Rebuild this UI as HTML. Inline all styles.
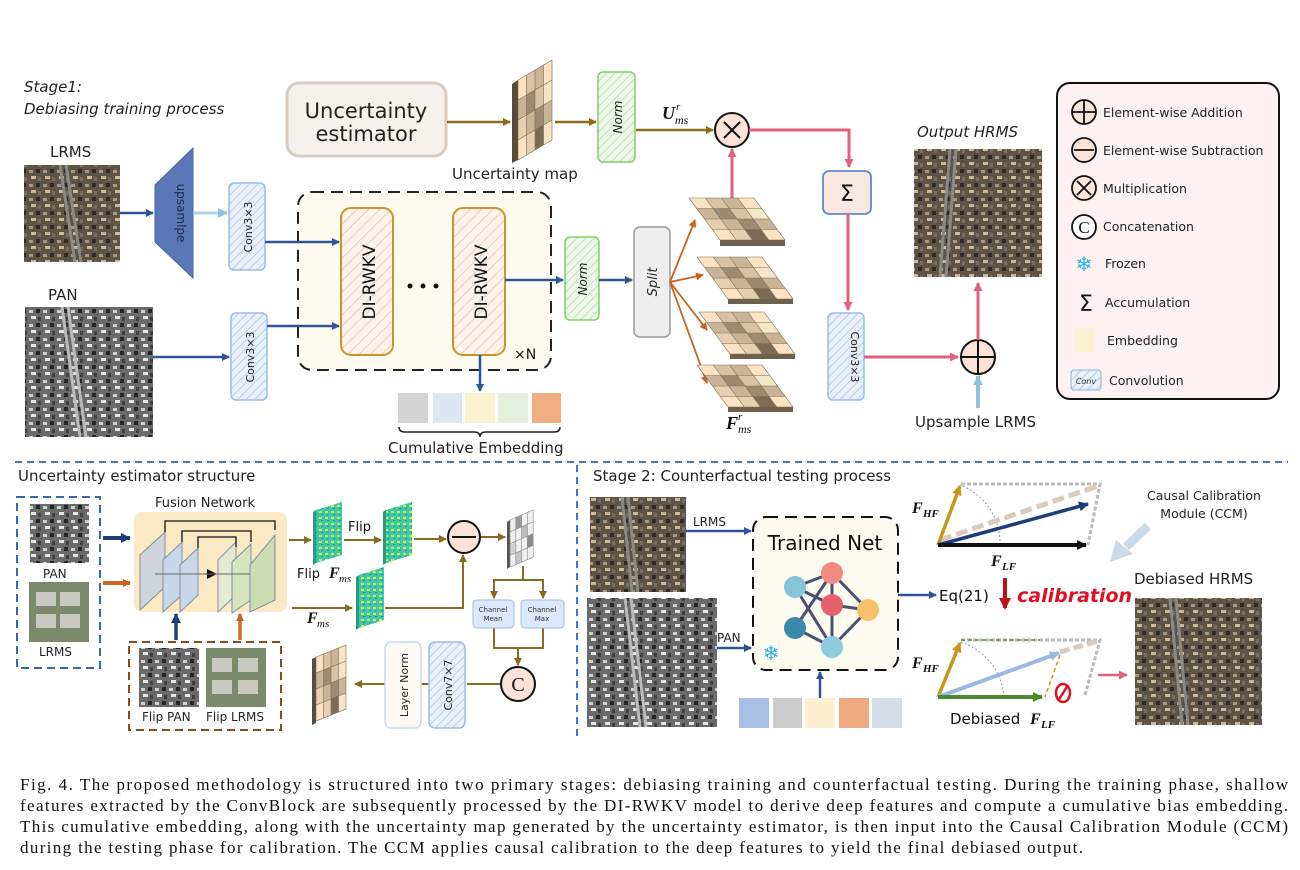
<!DOCTYPE html>
<html><head><meta charset="utf-8"><style>
html,body{margin:0;padding:0;background:#fff}
svg{display:block}
.h{font-family:"DejaVu Sans","Liberation Sans",sans-serif}
.s{font-family:"Liberation Serif",serif}
</style></head><body>
<svg width="1300" height="870" viewBox="0 0 1300 870" xmlns="http://www.w3.org/2000/svg">
<defs>
<marker id="aN" markerWidth="8" markerHeight="8" refX="7" refY="4" orient="auto" markerUnits="userSpaceOnUse"><path d="M0,0 L8,4 L0,8 Z" fill="#2f5597"/></marker>
<marker id="aB" markerWidth="8" markerHeight="8" refX="7" refY="4" orient="auto" markerUnits="userSpaceOnUse"><path d="M0,0 L8,4 L0,8 Z" fill="#8a6a1e"/></marker>
<marker id="aP" markerWidth="9" markerHeight="9" refX="8" refY="4.5" orient="auto" markerUnits="userSpaceOnUse"><path d="M0,0 L9,4.5 L0,9 Z" fill="#e0607e"/></marker>
<marker id="aO" markerWidth="8" markerHeight="8" refX="7" refY="4" orient="auto" markerUnits="userSpaceOnUse"><path d="M0,0 L8,4 L0,8 Z" fill="#c8621e"/></marker>
<marker id="aK" markerWidth="10" markerHeight="10" refX="9" refY="5" orient="auto" markerUnits="userSpaceOnUse"><path d="M0,0 L10,5 L0,10 Z" fill="#111"/></marker>
<marker id="aL" markerWidth="10" markerHeight="10" refX="9" refY="5" orient="auto" markerUnits="userSpaceOnUse"><path d="M0,0 L10,5 L0,10 Z" fill="#8ec3e0"/></marker>
<marker id="aNv" markerWidth="10" markerHeight="10" refX="9" refY="5" orient="auto" markerUnits="userSpaceOnUse"><path d="M0,0 L10,5 L0,10 Z" fill="#1f3d7a"/></marker>
<marker id="aG" markerWidth="10" markerHeight="10" refX="9" refY="5" orient="auto" markerUnits="userSpaceOnUse"><path d="M0,0 L10,5 L0,10 Z" fill="#c8961e"/></marker>
<marker id="aGr" markerWidth="10" markerHeight="10" refX="9" refY="5" orient="auto" markerUnits="userSpaceOnUse"><path d="M0,0 L10,5 L0,10 Z" fill="#4a8a2a"/></marker>
<marker id="aLb" markerWidth="10" markerHeight="10" refX="9" refY="5" orient="auto" markerUnits="userSpaceOnUse"><path d="M0,0 L10,5 L0,10 Z" fill="#9bb8e0"/></marker>
<marker id="aR" markerWidth="12" markerHeight="12" refX="6" refY="10" orient="0" markerUnits="userSpaceOnUse"><path d="M0,0 L12,0 L6,12 Z" fill="#c0101a"/></marker>
<pattern id="hB" width="6" height="6" patternUnits="userSpaceOnUse" patternTransform="rotate(45)"><rect width="6" height="6" fill="#eaf1fb"/><line x1="0" y1="0" x2="0" y2="6" stroke="#b9cdee" stroke-width="2"/></pattern>
<pattern id="hG" width="6" height="6" patternUnits="userSpaceOnUse" patternTransform="rotate(45)"><rect width="6" height="6" fill="#eef8ea"/><line x1="0" y1="0" x2="0" y2="6" stroke="#bfe3b0" stroke-width="2"/></pattern>
<pattern id="hP" width="8" height="8" patternUnits="userSpaceOnUse" patternTransform="rotate(45)"><rect width="8" height="8" fill="#fdf2ec"/><line x1="0" y1="0" x2="0" y2="8" stroke="#f5c7b4" stroke-width="2"/></pattern>
<pattern id="lr" width="14" height="14" patternUnits="userSpaceOnUse"><rect width="14" height="14" fill="#5d5446"/><rect x="1" y="2" width="4" height="3" fill="#a89880"/><rect x="8" y="1" width="4" height="4" fill="#2e2a24"/><rect x="3" y="8" width="5" height="3" fill="#cbb99a"/><rect x="10" y="9" width="3" height="4" fill="#7c6e5c"/></pattern>
<pattern id="pn" width="14" height="14" patternUnits="userSpaceOnUse"><rect width="14" height="14" fill="#6a6a6a"/><rect x="1" y="2" width="4" height="3" fill="#cfcfcf"/><rect x="8" y="1" width="4" height="4" fill="#262626"/><rect x="3" y="8" width="5" height="3" fill="#e6e6e6"/><rect x="10" y="9" width="3" height="4" fill="#404040"/></pattern>
<pattern id="fm" width="6" height="6" patternUnits="userSpaceOnUse"><rect width="6" height="6" fill="#3cc9a8"/><rect x="1" y="1" width="3" height="2" fill="#d7e84a"/><rect x="3" y="4" width="2" height="1" fill="#2a7fc0"/></pattern>
<g id="tgrid">
<rect x="0" y="0" width="1" height="1" fill="#fbe3c4"/><rect x="1" y="0" width="1" height="1" fill="#d9c2a4"/><rect x="2" y="0" width="1" height="1" fill="#c9b497"/><rect x="3" y="0" width="1" height="1" fill="#fbe3c4"/>
<rect x="0" y="1" width="1" height="1" fill="#c9b497"/><rect x="1" y="1" width="1" height="1" fill="#9e8a70"/><rect x="2" y="1" width="1" height="1" fill="#d9c2a4"/><rect x="3" y="1" width="1" height="1" fill="#f4e6c8"/>
<rect x="0" y="2" width="1" height="1" fill="#e5cfb0"/><rect x="1" y="2" width="1" height="1" fill="#c9b497"/><rect x="2" y="2" width="1" height="1" fill="#9e8a70"/><rect x="3" y="2" width="1" height="1" fill="#c9b497"/>
<rect x="0" y="3" width="1" height="1" fill="#fbe3c4"/><rect x="1" y="3" width="1" height="1" fill="#e5cfb0"/><rect x="2" y="3" width="1" height="1" fill="#7d6b55"/><rect x="3" y="3" width="1" height="1" fill="#fbe3c4"/>
<path d="M0,0H4V4H0Z M1,0V4 M2,0V4 M3,0V4 M0,1H4 M0,2H4 M0,3H4" fill="none" stroke="#7a6a55" stroke-width="0.6" vector-effect="non-scaling-stroke"/>
</g>
<g id="ggrid">
<rect x="0" y="0" width="4" height="4" fill="#f0f0f0"/><rect x="1" y="0" width="1" height="1" fill="#9a9a9a"/><rect x="2" y="1" width="1" height="1" fill="#bdbdbd"/><rect x="0" y="2" width="1" height="1" fill="#d0d0d0"/><rect x="3" y="2" width="1" height="1" fill="#8a8a8a"/><rect x="1" y="3" width="1" height="1" fill="#c5c5c5"/>
<path d="M0,0H4V4H0Z M1,0V4 M2,0V4 M3,0V4 M0,1H4 M0,2H4 M0,3H4" fill="none" stroke="#888" stroke-width="0.6" vector-effect="non-scaling-stroke"/>
</g>
</defs>

<!-- ===== Stage 1 ===== -->
<text x="24" y="92" class="h" font-size="15" font-style="italic" fill="#222">Stage1:</text>
<text x="24" y="114" class="h" font-size="15" font-style="italic" fill="#222">Debiasing training process</text>

<rect x="287" y="83" width="159" height="73" rx="12" fill="#f5f2ed" stroke="#d9cbbf" stroke-width="3"/>
<text x="366" y="118" class="h" font-size="21" text-anchor="middle" fill="#222">Uncertainty</text>
<text x="366" y="141" class="h" font-size="21" text-anchor="middle" fill="#222">estimator</text>
<line x1="447" y1="122" x2="510" y2="122" stroke="#8a6a1e" stroke-width="2.5" marker-end="url(#aB)"/>
<polygon points="512,84 518,80 518,160 512,163" fill="#5a4a38"/>
<use href="#tgrid" transform="matrix(8.5,-5,0,20,518,80)"/>
<line x1="555" y1="122" x2="596" y2="122" stroke="#8a6a1e" stroke-width="2.5" marker-end="url(#aB)"/>
<text x="452" y="179" class="h" font-size="15" fill="#222">Uncertainty map</text>
<rect x="598" y="72" width="37" height="90" rx="5" fill="url(#hG)" stroke="#7fd06a" stroke-width="1.5"/>
<text transform="translate(622,117) rotate(-90)" class="h" font-size="12" font-style="italic" text-anchor="middle" fill="#222">Norm</text>

<text x="662" y="119" class="s" font-size="18" font-style="italic" font-weight="bold" fill="#111">U</text><text x="676" y="110" class="s" font-size="11" font-style="italic" fill="#111">r</text><text x="675" y="124" class="s" font-size="12" font-style="italic" fill="#111">ms</text>
<line x1="636" y1="130" x2="713" y2="130" stroke="#8a6a1e" stroke-width="2.5" marker-end="url(#aB)"/>
<circle cx="732" cy="130" r="17" fill="#fbe3d8" stroke="#111" stroke-width="2"/>
<path d="M724,122 L740,138 M740,122 L724,138" stroke="#111" stroke-width="2"/>
<path d="M749,130 H849 V167" fill="none" stroke="#e0607e" stroke-width="3" marker-end="url(#aP)"/>
<line x1="732" y1="198" x2="732" y2="149" stroke="#e0607e" stroke-width="3" marker-end="url(#aP)"/>
<rect x="823" y="171" width="48" height="43" rx="6" fill="#fbe8e0" stroke="#5a8ad0" stroke-width="1.8"/>
<text x="847" y="201" class="h" font-size="22" text-anchor="middle" fill="#111">Σ</text>
<line x1="848" y1="214" x2="848" y2="310" stroke="#e0607e" stroke-width="3" marker-end="url(#aP)"/>
<rect x="828" y="313" width="36" height="87" rx="5" fill="url(#hB)" stroke="#9bbce8" stroke-width="1.5"/>
<text transform="translate(851,357) rotate(90)" class="h" font-size="11" text-anchor="middle" fill="#222">Conv3×3</text>
<line x1="864" y1="357" x2="958" y2="357" stroke="#e0607e" stroke-width="3" marker-end="url(#aP)"/>
<circle cx="978" cy="357" r="17" fill="#fbe3d8" stroke="#111" stroke-width="2"/>
<path d="M961,357 H995 M978,340 V374" stroke="#111" stroke-width="2"/>
<line x1="978" y1="340" x2="978" y2="283" stroke="#e0607e" stroke-width="3" marker-end="url(#aP)"/>
<line x1="978" y1="408" x2="978" y2="376" stroke="#8ec3e0" stroke-width="4" marker-end="url(#aL)"/>
<text x="915" y="427" class="h" font-size="15" fill="#222">Upsample LRMS</text>
<text x="917" y="137" class="h" font-size="15" font-style="italic" fill="#222">Output HRMS</text>
<rect x="914" y="149" width="128" height="128" fill="url(#lr)"/>
<path d="M950,149 L940,277 M956,149 L946,277" stroke="#8a8a84" stroke-width="3"/>

<!-- Legend -->
<rect x="1057" y="83" width="222" height="316" rx="13" fill="#fdf1f1" stroke="#111" stroke-width="2"/>
<g stroke="#111" stroke-width="1.8" fill="#fbe3d8">
<circle cx="1084" cy="112" r="12"/><circle cx="1084" cy="150" r="12"/><circle cx="1084" cy="188" r="12"/><circle cx="1084" cy="227" r="12" fill="#fff"/>
</g>
<path d="M1072,112 H1096 M1084,100 V124 M1074,150 H1094 M1077,181 L1091,195 M1091,181 L1077,195" stroke="#111" stroke-width="1.8"/>
<text x="1084" y="233" class="s" font-size="17" text-anchor="middle" fill="#111">C</text>
<text x="1084" y="271" font-size="20" text-anchor="middle" fill="#2ab0e8" class="h">❄</text>
<text x="1086" y="311" class="h" font-size="22" text-anchor="middle" fill="#111">Σ</text>
<rect x="1075" y="328" width="20" height="24" fill="#fdf0d3"/>
<rect x="1071" y="370" width="30" height="20" rx="3" fill="url(#hB)" stroke="#8fb0e0"/>
<text x="1086" y="384" class="h" font-size="8" font-style="italic" text-anchor="middle" fill="#333">Conv</text>
<g class="h" font-size="12.5" fill="#222">
<text x="1103" y="117">Element-wise Addition</text>
<text x="1103" y="155">Element-wise Subtraction</text>
<text x="1103" y="193">Multiplication</text>
<text x="1103" y="231">Concatenation</text>
<text x="1105" y="268">Frozen</text>
<text x="1105" y="307">Accumulation</text>
<text x="1107" y="345">Embedding</text>
<text x="1109" y="385">Convolution</text>
</g>

<!-- left inputs -->
<text x="50" y="157" class="h" font-size="15" fill="#222">LRMS</text>
<rect x="24" y="165" width="96" height="97" fill="url(#lr)"/>
<path d="M60,165 L75,262 M66,165 L81,262" stroke="#8a8a84" stroke-width="3"/>
<text x="48" y="300" class="h" font-size="15" fill="#222">PAN</text>
<rect x="25" y="307" width="128" height="130" fill="url(#pn)"/>
<path d="M62,307 L80,437 M68,307 L86,437" stroke="#bbb" stroke-width="3"/>
<line x1="120" y1="213" x2="153" y2="213" stroke="#2f5597" stroke-width="2.5" marker-end="url(#aN)"/>
<polygon points="155,185 193,148 193,278 155,242" fill="#5a78b8" stroke="#46639e"/>
<text transform="translate(177,213) rotate(90)" class="h" font-size="12" text-anchor="middle" fill="#1a2a50">upsamlpe</text>
<line x1="193" y1="213" x2="227" y2="213" stroke="#a8d4ec" stroke-width="3" marker-end="url(#aL)"/>
<rect x="229" y="183" width="36" height="87" rx="5" fill="url(#hB)" stroke="#9bbce8" stroke-width="1.5"/>
<text transform="translate(252,227) rotate(-90)" class="h" font-size="11" text-anchor="middle" fill="#222">Conv3×3</text>
<rect x="231" y="313" width="36" height="87" rx="5" fill="url(#hB)" stroke="#9bbce8" stroke-width="1.5"/>
<text transform="translate(254,357) rotate(-90)" class="h" font-size="11" text-anchor="middle" fill="#222">Conv3×3</text>
<line x1="153" y1="357" x2="229" y2="357" stroke="#2f5597" stroke-width="2.5" marker-end="url(#aN)"/>

<rect x="298" y="192" width="253" height="178" rx="14" fill="#fdfbef" stroke="#222" stroke-width="2" stroke-dasharray="12,7"/>
<line x1="265" y1="242" x2="339" y2="242" stroke="#2f5597" stroke-width="2.5" marker-end="url(#aN)"/>
<line x1="267" y1="326" x2="339" y2="326" stroke="#2f5597" stroke-width="2.5" marker-end="url(#aN)"/>
<rect x="341" y="208" width="52" height="147" rx="10" fill="url(#hP)" stroke="#c8962a" stroke-width="2"/>
<rect x="453" y="208" width="52" height="147" rx="10" fill="url(#hP)" stroke="#c8962a" stroke-width="2"/>
<text transform="translate(375,282) rotate(-90)" class="h" font-size="17" text-anchor="middle" fill="#111">DI-RWKV</text>
<text transform="translate(487,282) rotate(-90)" class="h" font-size="17" text-anchor="middle" fill="#111">DI-RWKV</text>
<circle cx="410" cy="286" r="2.5" fill="#111"/><circle cx="423" cy="286" r="2.5" fill="#111"/><circle cx="436" cy="286" r="2.5" fill="#111"/>
<text x="514" y="359" class="h" font-size="14" fill="#111">×N</text>
<line x1="505" y1="280" x2="563" y2="280" stroke="#2f5597" stroke-width="2.5" marker-end="url(#aN)"/>
<rect x="565" y="237" width="34" height="83" rx="5" fill="url(#hG)" stroke="#7fd06a" stroke-width="1.5"/>
<text transform="translate(587,279) rotate(-90)" class="h" font-size="12" font-style="italic" text-anchor="middle" fill="#222">Norm</text>
<line x1="599" y1="280" x2="632" y2="280" stroke="#2f5597" stroke-width="2.5" marker-end="url(#aN)"/>
<rect x="634" y="227" width="36" height="110" rx="6" fill="#eeeeee" stroke="#999" stroke-width="1.5"/>
<text transform="translate(657,282) rotate(-90)" class="h" font-size="13" font-style="italic" text-anchor="middle" fill="#222">Split</text>
<line x1="480" y1="355" x2="480" y2="391" stroke="#2f5597" stroke-width="2.5" marker-end="url(#aN)"/>
<rect x="398" y="393" width="30" height="30" fill="#d4d4d4"/><rect x="433" y="393" width="29" height="30" fill="#dde6f4"/><rect x="465" y="393" width="30" height="30" fill="#fdf0d3"/><rect x="498" y="393" width="30" height="30" fill="#e2f0dc"/><rect x="532" y="393" width="29" height="30" fill="#f0ae80"/>
<path d="M399,427 q0,5 6,5 H474 q6,0 6,5 q0,-5 6,-5 H554 q6,0 6,-5" fill="none" stroke="#222" stroke-width="1.5"/>
<text x="388" y="453" class="h" font-size="15" fill="#222">Cumulative Embedding</text>

<!-- split arrows & grids -->
<g stroke="#c8621e" stroke-width="1.8" fill="none">
<line x1="670" y1="282" x2="695" y2="220" marker-end="url(#aO)"/>
<line x1="670" y1="282" x2="703" y2="275" marker-end="url(#aO)"/>
<line x1="670" y1="282" x2="707" y2="330" marker-end="url(#aO)"/>
<line x1="670" y1="282" x2="707" y2="383" marker-end="url(#aO)"/>
</g>
<g>
<polygon points="720,240 785,240 785,246 720,246" fill="#6f604e"/><use href="#tgrid" transform="matrix(16.25,0,7.75,10.5,689,198)"/>
<polygon points="728,298 793,298 793,304 728,304" fill="#6f604e"/><use href="#tgrid" transform="matrix(16.25,0,7.75,10.5,697,257)"/>
<polygon points="730,353 795,353 795,359 730,359" fill="#6f604e"/><use href="#tgrid" transform="matrix(16.25,0,7.75,10.5,699,312)"/>
<polygon points="728,406 793,406 793,412 728,412" fill="#6f604e"/><use href="#tgrid" transform="matrix(16.25,0,7.75,10.5,697,365)"/>
</g>
<text x="726" y="429" class="s" font-size="18" font-style="italic" font-weight="bold" fill="#111">F</text><text x="738" y="420" class="s" font-size="11" font-style="italic" fill="#111">r</text><text x="738" y="433" class="s" font-size="12" font-style="italic" fill="#111">ms</text>

<!-- dividers -->
<line x1="15" y1="462" x2="1288" y2="462" stroke="#4a74c8" stroke-width="2" stroke-dasharray="7,5"/>
<line x1="577" y1="465" x2="577" y2="738" stroke="#4a74c8" stroke-width="2" stroke-dasharray="7,5"/>

<!-- ===== Uncertainty estimator structure ===== -->
<text x="18" y="481" class="h" font-size="15" fill="#222">Uncertainty estimator structure</text>
<rect x="17" y="497" width="83" height="171" fill="none" stroke="#3a68b0" stroke-width="2" stroke-dasharray="8,5"/>
<rect x="30" y="504" width="59" height="59" fill="url(#pn)"/>
<text x="43" y="578" class="h" font-size="12" fill="#222">PAN</text>
<rect x="29" y="582" width="60" height="60" fill="#7c8a6c"/><rect x="36" y="592" width="20" height="14" fill="#c9c9c0"/><rect x="60" y="592" width="20" height="14" fill="#c9c9c0"/><rect x="36" y="614" width="20" height="14" fill="#c9c9c0"/><rect x="60" y="614" width="20" height="14" fill="#c9c9c0"/>
<text x="39" y="656" class="h" font-size="12" fill="#222">LRMS</text>
<line x1="103" y1="538" x2="130" y2="538" stroke="#1f3d7a" stroke-width="4" marker-end="url(#aNv)"/>
<line x1="103" y1="583" x2="130" y2="583" stroke="#d8651e" stroke-width="4" marker-end="url(#aO)"/>
<text x="155" y="507" class="h" font-size="13" fill="#222">Fusion Network</text>
<rect x="134" y="512" width="153" height="100" rx="9" fill="#fbe9c4"/>
<g stroke="#7f8fa6" stroke-width="1">
<polygon points="140,555 165,532 165,587 140,610" fill="#cfd4d8"/>
<polygon points="163,560 182,542 182,595 163,612" fill="#c8d8ea"/>
<polygon points="180,565 198,548 198,595 180,612" fill="#c8d8ea"/>
<polygon points="218,560 236,542 236,595 218,612" fill="#e3ecd0"/>
<polygon points="232,562 251,544 251,600 232,613" fill="#d6e4c0"/>
<polygon points="250,565 275,535 275,600 250,612" fill="#ccdcb4"/>
</g>
<g stroke="#111" stroke-width="1.3" fill="none">
<path d="M165,532 V521 H275 V530"/><path d="M182,542 V531 H251 V542"/><path d="M198,548 V537 H236 V547"/>
<line x1="205" y1="574" x2="216" y2="574" marker-end="url(#aK)"/>
</g>
<line x1="155" y1="574" x2="250" y2="574" stroke="#666" stroke-width="1"/>
<rect x="129" y="642" width="152" height="88" fill="none" stroke="#8a4a1e" stroke-width="2" stroke-dasharray="8,5"/>
<rect x="139" y="648" width="60" height="59" fill="url(#pn)"/>
<rect x="206" y="648" width="60" height="59" fill="#7c8a6c"/><rect x="212" y="658" width="20" height="14" fill="#c9c9c0"/><rect x="238" y="658" width="20" height="14" fill="#c9c9c0"/><rect x="212" y="680" width="20" height="14" fill="#c9c9c0"/><rect x="238" y="680" width="20" height="14" fill="#c9c9c0"/>
<text x="142" y="721" class="h" font-size="12" fill="#222">Flip PAN</text><text x="206" y="721" class="h" font-size="12" fill="#222">Flip LRMS</text>
<line x1="176" y1="640" x2="176" y2="614" stroke="#1f3d7a" stroke-width="3.5" marker-end="url(#aNv)"/>
<line x1="240" y1="640" x2="240" y2="614" stroke="#d8651e" stroke-width="3.5" marker-end="url(#aO)"/>

<g stroke="#8a6a1e" stroke-width="2" fill="none">
<line x1="289" y1="540" x2="311" y2="540" marker-end="url(#aB)"/>
<line x1="344" y1="540" x2="381" y2="540" marker-end="url(#aB)"/>
<line x1="414" y1="539" x2="446" y2="539" marker-end="url(#aB)"/>
<line x1="292" y1="608" x2="352" y2="608" marker-end="url(#aB)"/>
<path d="M385,608 H463 V555" marker-end="url(#aB)"/>
<line x1="481" y1="537" x2="505" y2="537" marker-end="url(#aB)"/>
<path d="M523,566 V580 H494 V598" marker-end="url(#aB)"/><path d="M523,580 H543 V598" marker-end="url(#aB)"/>
<path d="M494,628 V648 H543 V628 M518,648 V665" marker-end="url(#aB)"/>
<path d="M501,684 H467 M429,684 H421 M385,684 H355" marker-end="url(#aB)"/>
</g>
<polygon points="316,510 342,502 342,555 316,563" fill="url(#fm)"/><polygon points="313,512 316,510 316,563 313,565" fill="#2a9a80"/>
<polygon points="386,510 412,502 412,555 386,563" fill="url(#fm)"/><polygon points="383,512 386,510 386,563 383,565" fill="#2a9a80"/>
<polygon points="359,575 384,567 384,620 359,628" fill="url(#fm)"/><polygon points="356,577 359,575 359,628 356,630" fill="#2a9a80"/>
<text x="348" y="531" class="h" font-size="13" fill="#111">Flip</text>
<text x="297" y="578" class="h" font-size="13" fill="#111">Flip</text><text x="329" y="578" class="s" font-size="16" font-style="italic" font-weight="bold" fill="#111">F</text><text x="339" y="582" class="s" font-size="11" font-style="italic" fill="#111">ms</text>
<text x="307" y="623" class="s" font-size="16" font-style="italic" font-weight="bold" fill="#111">F</text><text x="317" y="627" class="s" font-size="11" font-style="italic" fill="#111">ms</text>
<circle cx="464" cy="537" r="16" fill="#fbe3d8" stroke="#111" stroke-width="2"/><line x1="452" y1="537" x2="476" y2="537" stroke="#111" stroke-width="2"/>
<polygon points="507,522 510,520 510,567 507,569" fill="#555"/>
<use href="#ggrid" transform="matrix(5.8,-2.5,0,11.8,510,520)"/>
<rect x="473" y="600" width="41" height="28" rx="4" fill="#dce8fb" stroke="#9bbce8"/><rect x="521" y="600" width="43" height="28" rx="4" fill="#dce8fb" stroke="#9bbce8"/>
<text x="493" y="612" class="h" font-size="7" text-anchor="middle" fill="#333">Channel</text><text x="493" y="621" class="h" font-size="7" text-anchor="middle" fill="#333">Mean</text>
<text x="542" y="612" class="h" font-size="7" text-anchor="middle" fill="#333">Channel</text><text x="542" y="621" class="h" font-size="7" text-anchor="middle" fill="#333">Max</text>
<circle cx="518" cy="684" r="17" fill="#fbe3d8" stroke="#111" stroke-width="2"/><text x="518" y="691" class="s" font-size="20" text-anchor="middle" fill="#111">C</text>
<rect x="429" y="642" width="36" height="86" rx="6" fill="url(#hB)" stroke="#9bbce8" stroke-width="1.5"/>
<text transform="translate(452,685) rotate(-90)" class="h" font-size="11" text-anchor="middle" fill="#222">Conv7×7</text>
<rect x="385" y="642" width="36" height="86" rx="6" fill="#fdfaf5" stroke="#c9d9ef" stroke-width="1.5"/>
<text transform="translate(408,685) rotate(-90)" class="h" font-size="11" text-anchor="middle" fill="#222">Layer Norm</text>
<polygon points="312,659 316,657 316,723 312,725" fill="#5a4a38"/>
<use href="#tgrid" transform="matrix(7.5,-3,0,16,316,657)"/>

<!-- ===== Stage 2 ===== -->
<text x="593" y="481" class="h" font-size="15" fill="#222">Stage 2: Counterfactual testing process</text>
<rect x="590" y="497" width="96" height="95" fill="url(#lr)"/><path d="M622,497 L632,592 M628,497 L638,592" stroke="#8a8a84" stroke-width="3"/>
<rect x="587" y="598" width="130" height="129" fill="url(#pn)"/><path d="M625,598 L640,727 M631,598 L646,727" stroke="#bbb" stroke-width="3"/>
<text x="693" y="526" class="h" font-size="12" fill="#222">LRMS</text>
<line x1="686" y1="531" x2="751" y2="531" stroke="#2f5597" stroke-width="2.5" marker-end="url(#aN)"/>
<text x="717" y="642" class="h" font-size="12" fill="#222">PAN</text>
<line x1="717" y1="648" x2="751" y2="648" stroke="#2f5597" stroke-width="2.5" marker-end="url(#aN)"/>
<rect x="753" y="517" width="145" height="153" rx="13" fill="#fdfbef" stroke="#111" stroke-width="2" stroke-dasharray="12,7"/>
<text x="825" y="550" class="h" font-size="20" text-anchor="middle" fill="#111">Trained Net</text>
<g stroke="#4a5070" stroke-width="3">
<path d="M795,587 L832,573 M795,587 L832,605 M795,587 L832,647 M832,573 L868,610 M832,605 L868,610 M832,573 L832,647 M795,628 L832,573 M795,628 L832,647 M832,647 L868,610 M832,605 L832,647"/>
</g>
<circle cx="795" cy="587" r="11" fill="#86c5d8"/><circle cx="832" cy="573" r="11" fill="#f28b82"/><circle cx="832" cy="605" r="11" fill="#e8606c"/><circle cx="868" cy="610" r="11" fill="#f7c16b"/><circle cx="795" cy="628" r="11" fill="#3a88a8"/><circle cx="832" cy="647" r="11" fill="#8ccbdc"/>
<text x="771" y="660" font-size="20" text-anchor="middle" fill="#2ab0e8" class="h">❄</text>
<line x1="820" y1="698" x2="820" y2="672" stroke="#2f5597" stroke-width="2.5" marker-end="url(#aN)"/>
<rect x="739" y="698" width="30" height="30" fill="#a9c0e6"/><rect x="773" y="698" width="29" height="30" fill="#cccccc"/><rect x="805" y="698" width="30" height="30" fill="#fdf0d0"/><rect x="839" y="698" width="30" height="30" fill="#f0aa7f"/><rect x="872" y="698" width="30" height="30" fill="#d5dde6"/>
<line x1="898" y1="595" x2="936" y2="595" stroke="#2f5597" stroke-width="2.5" marker-end="url(#aN)"/>
<text x="939" y="601" class="h" font-size="15" fill="#111">Eq(21)</text>
<line x1="1005" y1="578" x2="1005" y2="608" stroke="#c0101a" stroke-width="4" marker-end="url(#aR)"/>
<text x="1017" y="602" class="h" font-size="19" font-style="italic" font-weight="bold" fill="#e01020">calibration</text>

<!-- top vectors -->
<g fill="none">
<path d="M961,484 H1100 L1088,545" stroke="#bbb" stroke-width="3" stroke-dasharray="4,2"/>
<path d="M1000,545 A62,62 0 0 0 960,485" stroke="#999" stroke-width="1" stroke-dasharray="2,2"/>
<line x1="940" y1="540" x2="1098" y2="486" stroke="#d8ccc0" stroke-width="5" stroke-dasharray="12,5"/>
<line x1="938" y1="545" x2="960" y2="486" stroke="#c8961e" stroke-width="3.5" marker-end="url(#aG)"/>
<line x1="938" y1="545" x2="1088" y2="504" stroke="#1f3d7a" stroke-width="3.5" marker-end="url(#aNv)"/>
<line x1="938" y1="545" x2="1086" y2="545" stroke="#111" stroke-width="4" marker-end="url(#aK)"/>
</g>
<text x="912" y="513" class="s" font-size="16" font-style="italic" font-weight="bold" fill="#111">F</text><text x="923" y="517" class="s" font-size="11" font-style="italic" font-weight="bold" fill="#111">HF</text>
<text x="991" y="566" class="s" font-size="16" font-style="italic" font-weight="bold" fill="#111">F</text><text x="1002" y="570" class="s" font-size="11" font-style="italic" font-weight="bold" fill="#111">LF</text>
<text x="1204" y="500" class="h" font-size="12.5" text-anchor="middle" fill="#222">Causal Calibration</text>
<text x="1204" y="518" class="h" font-size="12.5" text-anchor="middle" fill="#222">Module (CCM)</text>
<line x1="1148" y1="526" x2="1126" y2="547" stroke="#cbdbe8" stroke-width="9"/>
<polygon points="1116,540 1133,554 1110,562" fill="#cbdbe8"/>
<text x="1134" y="584" class="h" font-size="15" fill="#222">Debiased HRMS</text>
<rect x="1135" y="598" width="127" height="127" fill="url(#lr)"/><path d="M1170,598 L1182,725 M1176,598 L1188,725" stroke="#8a8a84" stroke-width="3"/>
<line x1="1098" y1="675" x2="1127" y2="675" stroke="#e0607e" stroke-width="2.5" marker-end="url(#aP)"/>

<!-- bottom vectors -->
<g fill="none">
<path d="M961,640 H1100 L1085,695" stroke="#bbb" stroke-width="3" stroke-dasharray="4,2"/>
<line x1="961" y1="640" x2="1040" y2="640" stroke="#5a9a3a" stroke-width="1.5" stroke-dasharray="4,3"/>
<path d="M1004,697 A62,62 0 0 0 960,642" stroke="#999" stroke-width="1" stroke-dasharray="2,2"/>
<line x1="1060" y1="652" x2="1098" y2="641" stroke="#d8ccc0" stroke-width="5" stroke-dasharray="10,4"/>
<line x1="1060" y1="655" x2="1045" y2="697" stroke="#c8961e" stroke-width="1.5" stroke-dasharray="4,3"/>
<line x1="938" y1="697" x2="960" y2="643" stroke="#c8961e" stroke-width="3.5" marker-end="url(#aG)"/>
<line x1="938" y1="697" x2="1059" y2="653" stroke="#9bb8e0" stroke-width="4" marker-end="url(#aLb)"/>
<line x1="938" y1="697" x2="1042" y2="697" stroke="#4a8a2a" stroke-width="4" marker-end="url(#aGr)"/>
<ellipse cx="1063" cy="693" rx="7" ry="9" stroke="#e01020" stroke-width="2.5"/>
<line x1="1058" y1="701" x2="1068" y2="685" stroke="#e01020" stroke-width="2.5"/>
</g>
<text x="912" y="668" class="s" font-size="16" font-style="italic" font-weight="bold" fill="#111">F</text><text x="923" y="672" class="s" font-size="11" font-style="italic" font-weight="bold" fill="#111">HF</text>
<text x="950" y="724" class="h" font-size="15" fill="#111">Debiased</text><text x="1030" y="724" class="s" font-size="16" font-style="italic" font-weight="bold" fill="#111">F</text><text x="1041" y="728" class="s" font-size="11" font-style="italic" font-weight="bold" fill="#111">LF</text>

<!-- caption -->
<g class="s" font-size="17" fill="#111">
<text x="20" y="790" textLength="1268" lengthAdjust="spacing">Fig. 4.  The proposed methodology is structured into two primary stages: debiasing training and counterfactual testing. During the training phase, shallow</text>
<text x="20" y="811" textLength="1268" lengthAdjust="spacing">features extracted by the ConvBlock are subsequently processed by the DI-RWKV model to derive deep features and compute a cumulative bias embedding.</text>
<text x="20" y="832" textLength="1268" lengthAdjust="spacing">This cumulative embedding, along with the uncertainty map generated by the uncertainty estimator, is then input into the Causal Calibration Module (CCM)</text>
<text x="20" y="853" textLength="1063" lengthAdjust="spacing">during the testing phase for calibration. The CCM applies causal calibration to the deep features to yield the final debiased output.</text>
</g>
</svg>
</body></html>
